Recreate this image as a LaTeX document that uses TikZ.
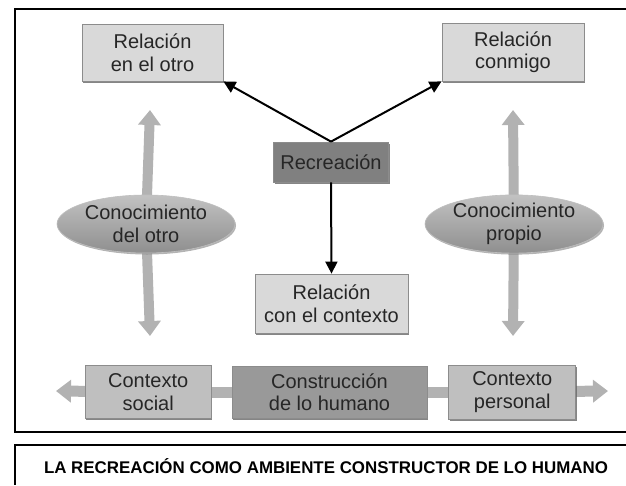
\documentclass[tikz,border=0pt]{standalone}
\usepackage{fontspec}
\setmainfont{Liberation Sans}
\usetikzlibrary{positioning,arrows.meta,shapes.geometric,shadows,backgrounds}
\definecolor{rtinta}{gray}{0.15}
\definecolor{rclaro}{gray}{0.85}
\definecolor{rmedio}{gray}{0.75}
\definecolor{roscuro}{gray}{0.60}
\definecolor{rcentro}{gray}{0.50}
\definecolor{rflecha}{gray}{0.70}
\definecolor{rborde}{gray}{0.55}

\begin{document}
\begin{tikzpicture}[x=1pt, y=-1pt,
    every node/.style={text=rtinta, align=center, inner sep=0pt, font=\fontsize{20}{22.5}\selectfont},
    caja/.style={draw=rborde, line width=0.8pt, drop shadow={shadow xshift=1.2pt, shadow yshift=-1.5pt, fill=black!60, opacity=0.8}},
    elipse/.style={ellipse, draw=gray!50, line width=0.6pt, top color=black!24, bottom color=black!44,
      minimum width=178pt, minimum height=58pt, drop shadow={shadow xshift=1pt, shadow yshift=-1.5pt, fill=black!50, opacity=0.6}},
    negra/.style={-{Triangle[width=12pt,length=12pt]}, line width=2pt, black},
    gruesa/.style={draw=rflecha, line width=10pt},
    punta/.style={gruesa, -{Triangle[width=22pt,length=15pt]}},
    marco/.style={draw=black, line width=2pt}]
  \useasboundingbox (0,0) rectangle (626,485);
  \draw[marco] (626,9) -- (15,9) -- (15,432) -- (626,432);
  \draw[marco] (626,445) -- (15,445) -- (15,485);

  % fila superior
  \node[caja, fill=rclaro, minimum width=141pt, minimum height=57pt] (otro) at (152.5,52.5) {Relación\\en el otro};
  \node[caja, fill=rclaro, minimum width=142pt, minimum height=58pt] (conmigo) at (513,52) {Relación\\conmigo};
  \node[caja, fill=rcentro, minimum width=115pt, minimum height=40pt] (recre) at (331,162) {Recreación};
  \node[caja, fill=rclaro, minimum width=153pt, minimum height=59pt] (contexto) at (331.5,303.5) {Relación\\con el contexto};

  % elipses
  \node[elipse] (eotro) at (146,224) {Conocimiento\\del otro};
  \node[elipse] (epropio) at (514,224) {Conocimiento\\propio};
  \coordinate (otroarr) at (150,110);
  \coordinate (otroaba) at (150,336);
  \coordinate (propioarr) at (513,110);
  \coordinate (propioaba) at (513,336);

  % fila inferior
  \node[caja, fill=roscuro, minimum width=195pt, minimum height=52pt] (constr) at (329.5,392) {Construcción\\de lo humano};
  \node[caja, fill=rmedio, minimum width=126pt, minimum height=53pt, left=20pt of constr] (social) {Contexto\\social};
  \node[caja, fill=rmedio, minimum width=127pt, minimum height=54pt, right=21pt of constr] (personal) {Contexto\\personal};
  \coordinate (izq) at (56,391);
  \coordinate (der) at (608,391);

  \node[font=\bfseries\fontsize{16.9}{19}\selectfont, text=black] (titulo) at (326,466) {LA RECREACIÓN COMO AMBIENTE CONSTRUCTOR DE LO HUMANO};

  \begin{scope}[on background layer]
    \draw[punta] (eotro.center) -- (otroarr);
    \draw[punta] (eotro.center) -- (otroaba);
    \draw[punta] (epropio.center) -- (propioarr);
    \draw[punta] (epropio.center) -- (propioaba);
    \draw[punta, line width=11pt] (social.center) -- (izq);
    \draw[punta, line width=11pt] (personal.center) -- (der);
    \draw[gruesa, line width=11pt] (social.center) -- (personal.center);
  \end{scope}

  \draw[negra] (recre.north) -- (otro.south east);
  \draw[negra] (recre.north) -- (conmigo.south west);
  \draw[negra] (recre.south) -- (contexto.north);
\end{tikzpicture}
\end{document}
